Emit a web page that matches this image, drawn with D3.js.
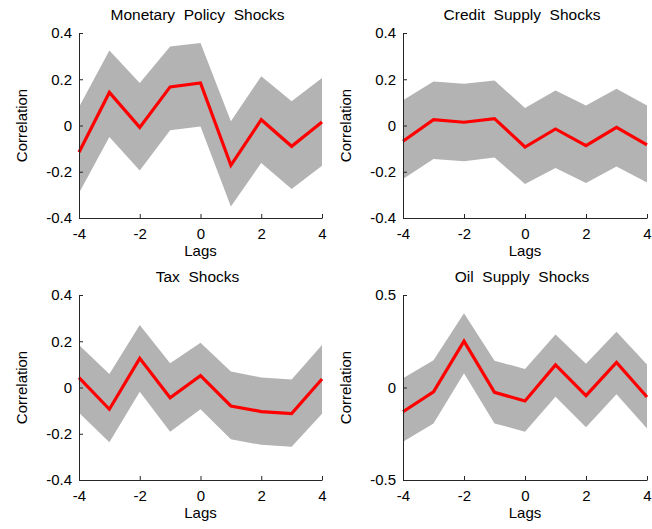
<!DOCTYPE html>
<html><head><meta charset="utf-8">
<script src="https://cdn.jsdelivr.net/npm/d3@7"></script>
<style>body{margin:0;background:#fff;} svg{display:block;} text{font-family:"Liberation Sans",Arial,sans-serif;fill:#000;}</style>
</head><body>
<script>
const lags = [-4,-3,-2,-1,0,1,2,3,4];
const xTicks = [-4,-2,0,2,4];
const titles = ["Monetary  Policy  Shocks","Credit  Supply  Shocks","Tax  Shocks","Oil  Supply  Shocks"];
const yTicksA = [-0.4,-0.2,0,0.2,0.4];
const yTicksB = [-0.5,0,0.5];
const yTickLabelsA = ["-0.4","-0.2","0","0.2","0.4"];
const yTickLabelsB = ["-0.5","0","0.5"];

const monMean  = [-0.116,0.143,-0.008,0.167,0.184,-0.172,0.025,-0.090,0.015];
const monUpper = [0.080,0.324,0.184,0.342,0.357,0.018,0.213,0.105,0.205];
const monLower = [-0.292,-0.050,-0.195,-0.021,-0.004,-0.350,-0.162,-0.275,-0.174];

const credMean  = [-0.068,0.025,0.014,0.030,-0.093,-0.015,-0.087,-0.008,-0.084];
const credUpper = [0.109,0.190,0.181,0.195,0.076,0.151,0.086,0.159,0.087];
const credLower = [-0.231,-0.145,-0.155,-0.138,-0.253,-0.184,-0.249,-0.177,-0.246];

const taxMean  = [0.043,-0.094,0.126,-0.044,0.051,-0.080,-0.104,-0.113,0.037];
const taxUpper = [0.184,0.058,0.270,0.105,0.194,0.069,0.043,0.035,0.184];
const taxLower = [-0.109,-0.237,-0.018,-0.191,-0.094,-0.224,-0.248,-0.256,-0.114];

const oilMean  = [-0.131,-0.023,0.251,-0.026,-0.073,0.122,-0.044,0.136,-0.051];
const oilUpper = [0.050,0.147,0.401,0.145,0.100,0.287,0.129,0.302,0.125];
const oilLower = [-0.293,-0.194,0.077,-0.194,-0.239,-0.050,-0.215,-0.037,-0.221];

const panels = [
  {title:titles[0], mean:monMean, upper:monUpper, lower:monLower, dom:[-0.4,0.4], ticks:yTicksA, labels:yTickLabelsA, x0:79, x1:322, y0:33, y1:218, ylab:22},
  {title:titles[1], mean:credMean, upper:credUpper, lower:credLower, dom:[-0.4,0.4], ticks:yTicksA, labels:yTickLabelsA, x0:403, x1:647, y0:33, y1:218, ylab:346},
  {title:titles[2], mean:taxMean, upper:taxUpper, lower:taxLower, dom:[-0.4,0.4], ticks:yTicksA, labels:yTickLabelsA, x0:79, x1:322, y0:295, y1:480, ylab:22},
  {title:titles[3], mean:oilMean, upper:oilUpper, lower:oilLower, dom:[-0.5,0.5], ticks:yTicksB, labels:yTickLabelsB, x0:403, x1:647, y0:295, y1:480, ylab:346}
];

const svg = d3.select("body").append("svg").attr("width",652).attr("height",529);

panels.forEach(p => {
  const x = d3.scaleLinear().domain([-4,4]).range([p.x0,p.x1]);
  const y = d3.scaleLinear().domain(p.dom).range([p.y1,p.y0]);
  const g = svg.append("g");
  const data = lags.map((l,i)=>({l, m:p.mean[i], u:p.upper[i], lo:p.lower[i]}));
  g.append("path").datum(data)
    .attr("d", d3.area().x(d=>x(d.l)).y0(d=>y(d.lo)).y1(d=>y(d.u)))
    .attr("fill","#b3b3b3");
  g.append("path").datum(data)
    .attr("d", d3.line().x(d=>x(d.l)).y(d=>y(d.m)))
    .attr("fill","none").attr("stroke","#ff0000").attr("stroke-width",3.2).attr("stroke-linejoin","miter");

  const ax = d3.axisBottom(x).tickValues(xTicks).tickFormat(d=>String(d)).tickSizeInner(-4).tickSizeOuter(0).tickPadding(10);
  const gx = g.append("g").attr("transform",`translate(0,${p.y1})`).call(ax);
  const ay = d3.axisLeft(y).tickValues(p.ticks).tickFormat((d,i)=>p.labels[i]).tickSizeInner(-4).tickSizeOuter(0).tickPadding(7);
  const gy = g.append("g").attr("transform",`translate(${p.x0},0)`).call(ay);
  [gx,gy].forEach(a=>{
    a.select(".domain").attr("stroke","#262626").attr("stroke-width",1);
    a.selectAll(".tick line").attr("stroke","#262626");
    a.selectAll("text").attr("font-size",15).attr("font-family","Liberation Sans, Arial, sans-serif").attr("fill","#000");
  });
  gx.selectAll("text").attr("dy","0.71em");

  g.append("text").attr("x",(p.x0+p.x1)/2 - 3).attr("y",p.y0-13).attr("text-anchor","middle")
    .attr("font-size",15.5).style("white-space","pre").text(p.title);
  g.append("text").attr("x",(p.x0+p.x1)/2).attr("y",p.y1+38).attr("text-anchor","middle")
    .attr("font-size",15).text("Lags");
  g.append("text").attr("transform",`translate(${p.ylab},${(p.y0+p.y1)/2}) rotate(-90)`)
    .attr("text-anchor","middle").attr("dy","0.35em").attr("font-size",15).text("Correlation");
});
</script>
</body></html>
